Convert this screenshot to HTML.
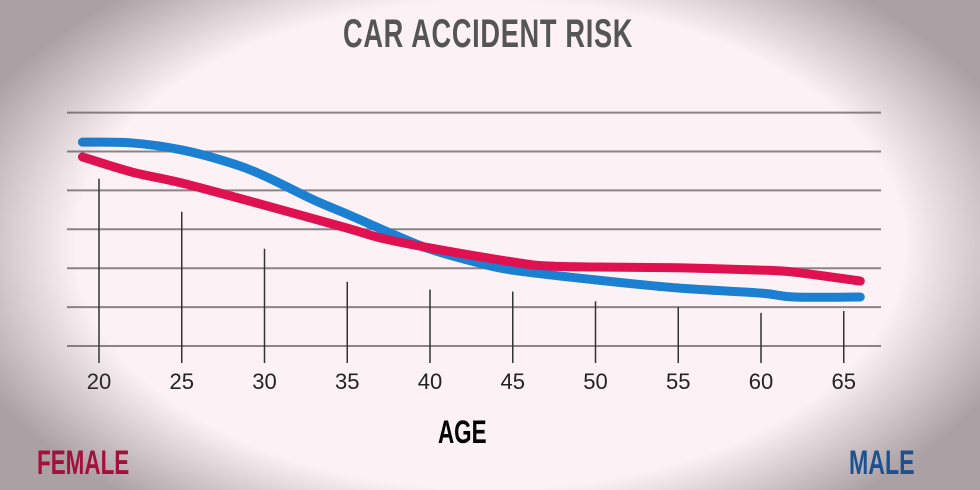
<!DOCTYPE html>
<html><head><meta charset="utf-8"><style>
html,body{margin:0;padding:0}
body{width:980px;height:490px;overflow:hidden;position:relative;background:#fcf2f5;font-family:"Liberation Sans",sans-serif}
#vig{position:absolute;left:0;top:0;width:980px;height:490px;pointer-events:none;background:radial-gradient(ellipse 560px 330px at 490px 245px,rgba(0,0,0,0) 74%,rgba(90,80,85,0.5) 100%)}
.lbl{position:absolute;font-weight:bold;transform-origin:left top;white-space:nowrap}
</style></head><body>
<svg id="chart" width="980" height="490" style="position:absolute;left:0;top:0">
<g id="grid"></g><g id="ticks"></g><g id="series"></g>
</svg>
<div id="vig"></div>
<div class="lbl" style="left:343px;top:12px;font-size:40px;color:#555;transform:scaleX(0.68);letter-spacing:1px">CAR ACCIDENT RISK</div>
<div class="lbl" style="left:438px;top:414px;font-size:32px;color:#000;transform:scaleX(0.7)">AGE</div>
<div class="lbl" style="left:37px;top:444px;font-size:34px;color:#a3103c;transform:scaleX(0.66)">FEMALE</div>
<div class="lbl" style="left:849px;top:444px;font-size:34px;color:#1d5290;transform:scaleX(0.68)">MALE</div>
<script>
const tickAges=[20,25,30,35,40,45,50,55,60,65];
const tickTops=[4.3,3.45,2.5,1.65,1.45,1.4,1.15,1.0,0.85,0.9];
const gridLevels=[0,1,2,3,4,5,6];
const maleAges=[19,22,25,28,30,33,35,38,40,43,45,50,55,60,62,66];
const maleRisk=[5.24,5.22,5.04,4.70,4.37,3.75,3.39,2.83,2.49,2.13,1.95,1.70,1.49,1.36,1.26,1.26];
const femaleAges=[19,22,25,30,35,37,40,45,47,50,55,60,62,66];
const femaleRisk=[4.86,4.47,4.19,3.62,3.03,2.78,2.52,2.16,2.06,2.03,2.01,1.95,1.90,1.67];
const NS='http://www.w3.org/2000/svg';
const xs=a=>99+(a-20)*16.55;
const ys=v=>346-v*38.9;
const g=document.getElementById('grid'),t=document.getElementById('ticks'),s=document.getElementById('series');
gridLevels.forEach(l=>{const e=document.createElementNS(NS,'line');


e.setAttribute('x1',67);e.setAttribute('x2',881);e.setAttribute('y1',ys(l));e.setAttribute('y2',ys(l));
e.setAttribute('stroke','#8a8486');e.setAttribute('stroke-width','2');g.appendChild(e);});
tickAges.forEach((a,i)=>{const e=document.createElementNS(NS,'line');


e.setAttribute('x1',xs(a));e.setAttribute('x2',xs(a));e.setAttribute('y1',ys(tickTops[i]));e.setAttribute('y2',363);
e.setAttribute('stroke','#333');e.setAttribute('stroke-width','1.5');t.appendChild(e);
const tx=document.createElementNS(NS,'text');


tx.setAttribute('x',xs(a));tx.setAttribute('y',389);tx.setAttribute('text-anchor','middle');
tx.setAttribute('font-size','22');tx.setAttribute('fill','#222');tx.setAttribute('font-family','Liberation Sans, sans-serif');
tx.textContent=a;t.appendChild(tx);});
function path(ax,vs){const p=ax.map((a,i)=>[xs(a),ys(vs[i])]);let d='M'+p[0][0]+','+p[0][1];
for(let i=0;i<p.length-1;i++){const p0=p[i-1]||p[i],p1=p[i],p2=p[i+1],p3=p[i+2]||p2;
d+=' C'+(p1[0]+(p2[0]-p0[0])/6)+','+(p1[1]+(p2[1]-p0[1])/6)+' '+(p2[0]-(p3[0]-p1[0])/6)+','+(p2[1]-(p3[1]-p1[1])/6)+' '+p2[0]+','+p2[1];}return d;}
const fem=document.createElementNS(NS,'path');


fem.setAttribute('d',path(femaleAges,femaleRisk));fem.setAttribute('fill','none');fem.setAttribute('stroke','#df1150');fem.setAttribute('stroke-width','9');fem.setAttribute('stroke-linecap','round');
const mal=document.createElementNS(NS,'path');


mal.setAttribute('d',path(maleAges,maleRisk));mal.setAttribute('fill','none');mal.setAttribute('stroke','#1b80d2');mal.setAttribute('stroke-width','9');mal.setAttribute('stroke-linecap','round');
s.appendChild(mal);s.appendChild(fem);
</script>
</body></html>
